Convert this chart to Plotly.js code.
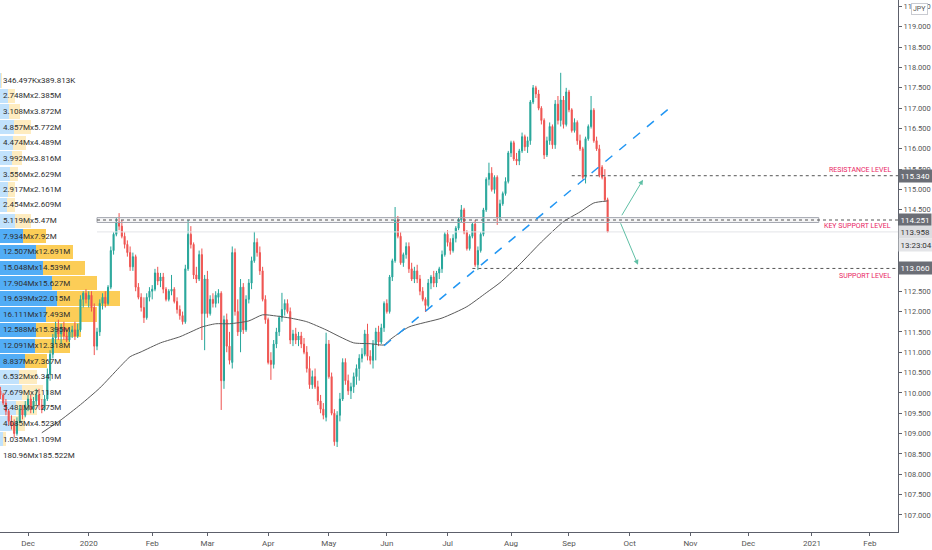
<!DOCTYPE html>
<html><head><meta charset="utf-8">
<script src="https://cdn.plot.ly/plotly-3.0.1.min.js"></script>
<style>html,body{margin:0;padding:0;background:#fff}</style>
</head><body><div id="chart" style="width:932px;height:550px"></div>
<script>
// ---- daily OHLC (bar 0 = 2019-11-18, weekdays only) ----
const firstDay = '2019-11-18';
const open = [110.05,109.95,109.75,109.55,109.3,109.25,109.0,109.3,109.6,109.45,
109.7,109.85,109.6,109.8,109.95,109.7,109.6,109.85,110.45,110.95,
111.35,111.6,111.45,111.6,111.4,111.3,111.5,111.55,111.4,111.55,
112.3,112.45,112.3,112.4,112.1,111.15,111.5,112.2,112.35,112.2,
112.6,113.5,113.9,114.2,114.1,113.85,113.65,113.45,113.1,113.35,
112.6,112.35,112.1,111.85,112.35,112.5,112.55,112.95,112.75,112.85,
112.55,112.3,112.5,112.55,112.25,112.05,111.9,111.75,113.05,113.9,
113.65,112.9,112.8,113.4,111.95,112.8,111.95,112.3,112.2,112.35,
112.45,110.3,111.8,111.15,110.75,113.45,112.0,111.5,112.6,111.55,
112.3,112.7,113.25,113.7,113.45,113.0,112.3,111.8,110.8,110.7,
111.2,111.5,111.85,112.05,112.2,112.0,111.3,111.45,111.3,111.4,
111.2,111.0,110.6,110.2,110.4,110.15,109.8,109.6,109.4,111.2,
110.4,109.5,108.8,109.45,109.85,110.75,110.3,110.05,110.15,110.4,
110.6,110.85,110.95,111.45,110.9,110.8,111.2,111.5,111.25,111.6,
112.2,112.0,112.85,113.25,114.25,113.85,113.2,113.4,113.6,113.05,
112.8,113.0,112.8,112.5,112.3,112.15,112.7,112.85,112.7,112.95,
113.05,113.4,113.9,113.7,113.5,113.8,114.05,114.25,114.5,113.95,
113.55,113.85,114.15,113.15,113.5,113.9,114.5,115.25,115.4,115.0,
115.3,114.3,114.65,114.9,115.2,115.9,116.15,115.75,115.7,115.95,
116.3,116.05,116.2,117.15,117.5,117.35,117.0,116.7,115.85,116.2,
116.55,116.1,117.1,116.7,117.2,116.6,117.4,116.96,116.45,116.65,
116.2,116.0,115.3,116.25,116.55,116.95,116.2,116.0,115.55,115.3,
114.75];
const high = [110.15,110.0,109.85,109.6,109.45,109.35,109.4,109.7,109.7,109.8,
109.95,109.95,109.9,110.1,110.1,109.85,109.95,110.6,111.05,111.45,
111.75,111.8,111.7,111.75,111.6,111.6,111.65,111.75,111.7,112.4,
112.5,112.55,112.5,112.5,112.2,111.6,112.3,112.45,112.5,112.65,
113.6,113.95,114.3,114.42,114.25,113.95,113.75,113.6,113.45,113.4,
112.7,112.45,112.35,112.45,112.6,112.65,113.05,113.1,112.95,112.95,
112.6,112.55,112.9,112.6,112.35,112.15,112.0,113.15,114.25,114.1,
113.7,113.1,113.5,113.55,112.9,113.0,112.4,112.45,112.5,112.55,
112.5,111.9,111.95,111.5,113.6,113.55,112.3,112.8,112.7,112.4,
112.8,113.35,113.96,113.8,113.6,113.1,112.4,111.85,111.0,111.3,
111.6,111.9,112.46,112.3,112.3,112.1,111.55,111.6,111.5,111.5,
111.35,111.15,110.9,110.55,110.6,110.3,109.95,109.75,111.48,111.3,
110.5,109.6,109.55,110.0,110.85,110.85,110.45,110.25,110.5,110.7,
110.95,111.1,111.55,111.7,111.05,111.3,111.6,111.65,111.7,112.25,
112.3,112.9,113.3,114.57,114.35,113.95,113.45,113.7,113.7,113.2,
113.1,113.15,112.9,112.6,112.35,112.8,112.9,113.0,113.0,113.1,
113.5,113.95,114.0,113.8,113.9,114.1,114.3,114.62,114.55,114.0,
113.9,114.2,114.25,113.6,113.95,114.55,115.3,115.66,115.55,115.35,
115.35,114.75,114.95,115.3,115.95,116.2,116.2,115.9,116.0,116.4,
116.35,116.3,117.2,117.57,117.55,117.45,117.05,116.75,116.3,116.65,
116.6,117.2,117.3,117.87,117.3,117.5,117.45,117.0,116.75,116.7,
116.35,116.05,116.3,116.6,117.3,117.0,116.3,116.1,115.6,115.5,
114.8];
const low = [109.85,109.7,109.45,109.2,109.1,108.9,108.95,109.25,109.35,109.4,
109.55,109.5,109.5,109.7,109.6,109.5,109.55,109.8,110.3,110.85,
111.2,111.3,111.2,111.3,111.25,111.25,111.35,111.3,111.35,111.5,
112.1,112.2,112.1,112.0,110.93,111.05,111.4,112.05,112.1,112.15,
112.55,113.4,113.85,114.0,113.8,113.55,113.35,113.0,113.0,112.5,
112.3,112.0,111.72,111.8,112.25,112.3,112.5,112.65,112.6,112.45,
112.25,112.25,112.4,112.2,111.95,111.8,111.68,111.7,113.0,113.55,
112.8,112.7,112.75,111.3,111.05,111.85,111.9,112.1,112.1,112.2,
109.58,110.1,111.0,110.7,110.6,111.9,111.4,111.0,111.45,111.5,
112.2,112.55,113.2,113.35,112.9,112.25,111.7,110.7,110.32,110.6,
111.1,111.4,111.75,111.9,111.95,111.2,111.15,111.2,111.15,111.1,
110.95,110.5,110.1,110.1,110.1,109.7,109.5,109.35,109.3,110.35,
109.45,108.7,108.67,109.3,109.8,110.2,109.95,109.85,110.0,110.2,
110.3,110.75,110.9,110.8,110.7,110.6,110.8,111.15,111.2,111.5,
111.95,111.95,112.75,113.2,113.8,113.15,113.1,113.3,112.95,112.75,
112.7,112.7,112.4,112.25,111.99,112.1,112.55,112.6,112.6,112.8,
112.95,113.35,113.6,113.4,113.45,113.7,114.0,114.2,113.9,113.5,
113.5,113.8,113.1,113.02,113.45,113.85,114.45,115.1,114.95,114.9,
114.13,114.25,114.6,114.85,115.15,115.8,115.7,115.6,115.6,115.9,
115.95,115.9,116.1,117.1,117.25,116.95,116.6,115.75,115.8,116.1,
116.0,116.0,116.6,116.55,116.5,116.55,116.9,116.4,116.4,116.1,
115.95,115.25,115.15,116.2,116.5,116.15,115.95,115.3,115.25,114.7,
113.95];
const close = [109.95,109.75,109.55,109.3,109.2,109.0,109.3,109.6,109.45,109.7,
109.85,109.6,109.8,109.95,109.7,109.6,109.85,110.45,110.95,111.35,
111.6,111.45,111.6,111.4,111.3,111.5,111.55,111.4,111.55,112.3,
112.45,112.3,112.4,112.1,111.15,111.5,112.2,112.35,112.2,112.6,
113.5,113.9,114.2,114.1,113.85,113.65,113.45,113.1,113.35,112.6,
112.35,112.1,111.85,112.35,112.5,112.55,112.95,112.75,112.85,112.55,
112.3,112.5,112.55,112.25,112.05,111.9,111.75,113.05,113.9,113.65,
112.9,112.8,113.4,111.95,112.8,111.95,112.3,112.2,112.4,112.45,
110.3,111.8,111.15,110.8,113.45,112.0,111.5,112.6,111.55,112.3,
112.7,113.25,113.7,113.45,113.0,112.3,111.8,110.75,110.7,111.2,
111.5,111.85,112.05,112.2,112.0,111.3,111.45,111.3,111.4,111.2,
111.0,110.6,110.2,110.4,110.15,109.8,109.6,109.45,111.2,110.4,
109.5,108.8,109.45,109.85,110.75,110.3,110.05,110.15,110.4,110.6,
110.85,110.95,111.45,110.9,110.8,111.2,111.5,111.25,111.6,112.2,
112.0,112.85,113.25,114.25,113.85,113.2,113.4,113.6,113.05,112.8,
113.0,112.8,112.5,112.3,112.15,112.7,112.85,112.7,112.95,113.05,
113.4,113.9,113.7,113.5,113.8,114.05,114.25,114.5,113.95,113.55,
113.85,114.15,113.15,113.5,113.9,114.5,115.25,115.4,115.0,115.3,
114.3,114.65,114.9,115.2,115.9,116.15,115.75,115.7,115.95,116.3,
116.05,116.2,117.15,117.5,117.35,117.0,116.7,115.85,116.2,116.55,
116.1,117.1,116.7,117.2,116.6,117.4,116.96,116.45,116.65,116.2,
116.0,115.3,116.25,116.55,116.95,116.2,116.0,115.35,115.3,114.75,
113.958];

// ---- moving average (read at sample bars) ----
const maIdx = [15,22,29,36,43,47,51,58,65,69,73,78,83,90,95,100,105,111,118,123,128,134,139,141,148,160,169,176,181,188,196,204,210,215,220];
const maVal = [109.02,109.34,109.71,110.12,110.62,110.89,111.01,111.23,111.38,111.50,111.62,111.70,111.70,111.77,111.92,111.89,111.84,111.75,111.55,111.38,111.23,111.21,111.18,111.30,111.62,111.84,112.12,112.46,112.71,113.15,113.71,114.21,114.45,114.67,114.72];

// ---- volume profile (bottom to top) ----
const vpPrice = [108.86,109.25,109.63,110.01,110.40,110.78,111.16,111.55,111.93,112.32,112.70,113.08,113.47,113.85,114.23,114.62,115.00,115.38,115.77,116.15,116.53,116.92,117.30,117.68];
const vpUp = [1.035,4.085,5.481,7.679,6.532,8.837,12.091,12.588,16.111,19.639,17.904,15.048,12.507,7.934,5.119,2.454,2.917,3.556,3.992,4.474,4.857,3.108,2.748,0.346497];
const vpDown = [1.109,4.523,7.275,7.118,6.341,7.367,12.318,15.395,17.493,22.015,15.627,14.539,12.691,7.92,5.47,2.609,2.161,2.629,3.816,4.489,5.772,3.872,2.385,0.389813];
const vpTotalText = '180.96Mx185.522M';
const vaFirst = 5, vaLast = 13;

// ---- axis ticks ----
const tickDates = ['2019-12-02','2020-01-01','2020-02-03','2020-03-02','2020-04-01','2020-05-01','2020-06-01','2020-07-01','2020-08-03','2020-09-01','2020-10-01','2020-11-02','2020-12-01','2021-01-01','2021-02-01'];
const tickText = ['Dec','2020','Feb','Mar','Apr','May','Jun','Jul','Aug','Sep','Oct','Nov','Dec','2021','Feb'];
// price ticks (those hidden behind the price labels in the picture are left out)
const priceTicks = [107,107.5,108,108.5,109,109.5,110,110.5,111,111.5,112,112.5,114.5,115,115.5,116,116.5,117,117.5,118,118.5,119,119.5];

// ---- levels ----
const resistance = 115.340, keySupport = 114.251, support = 113.060, lastPrice = 113.958;
const keyBand = [114.19, 114.31];
const timerText = '13:23:04';

function weekdays(start, n){
  const out=[]; const d=new Date(start+'T00:00:00Z');
  while(out.length<n){const w=d.getUTCDay(); if(w!==0&&w!==6) out.push(d.toISOString().slice(0,10)); d.setUTCDate(d.getUTCDate()+1);}
  return out;
}
const dates = weekdays(firstDay, open.length);
const fmtV = v => v < 1 ? String(+(v*1000).toFixed(3))+'K' : String(+v.toFixed(3))+'M';

const upCol = vpUp.map((v,i)=> (i>=vaFirst&&i<=vaLast)?'rgba(33,150,243,0.78)':'rgba(33,150,243,0.28)');
const dnCol = vpDown.map((v,i)=> (i>=vaFirst&&i<=vaLast)?'rgba(251,192,45,0.8)':'rgba(251,192,45,0.3)');

const X0 = '2019-11-15 20:30', X1 = '2021-02-15 04:48';

const traces = [
  {type:'bar', orientation:'h', x:vpUp, y:vpPrice, xaxis:'x', yaxis:'y', width:0.35, marker:{color:upCol, line:{width:0}}, hoverinfo:'skip'},
  {type:'bar', orientation:'h', x:vpDown, y:vpPrice, xaxis:'x', yaxis:'y', width:0.35, marker:{color:dnCol, line:{width:0}}, hoverinfo:'skip'},
  {type:'candlestick', x:dates, open:open, high:high, low:low, close:close, xaxis:'x2', yaxis:'y',
   increasing:{line:{color:'#26a69a', width:1}, fillcolor:'#26a69a'},
   decreasing:{line:{color:'#ef5350', width:1}, fillcolor:'#ef5350'},
   whiskerwidth:0, hoverinfo:'skip'},
  {type:'scatter', mode:'lines', x:maIdx.map(i=>dates[i]), y:maVal, xaxis:'x2', yaxis:'y',
   line:{color:'#5a5a5a', width:1, shape:'spline', smoothing:0.6}, hoverinfo:'skip'}
];

const annotations = [];
vpPrice.forEach((p,i)=>{
  annotations.push({xref:'x', yref:'y', x:0.5, y:p, xanchor:'left', yanchor:'middle', showarrow:false,
    text: fmtV(vpUp[i])+'x'+fmtV(vpDown[i]), font:{family:'Roboto', size:8, color:'#2e2e2e'}});
});
annotations.push({xref:'x', yref:'y', x:0.5, y:108.46, xanchor:'left', yanchor:'middle', showarrow:false,
  text: vpTotalText, font:{family:'Roboto', size:8, color:'#2e2e2e'}});

const lvlFont = {family:'Roboto', size:7, color:'#e91e63'};
annotations.push({xref:'paper', yref:'y', x:0.9944, y:115.48, xanchor:'right', yanchor:'middle', showarrow:false, text:'RESISTANCE LEVEL', font:lvlFont});
annotations.push({xref:'paper', yref:'y', x:0.9944, y:114.11, xanchor:'right', yanchor:'middle', showarrow:false, text:'KEY SUPPORT LEVEL', font:lvlFont});
annotations.push({xref:'paper', yref:'y', x:0.9944, y:112.88, xanchor:'right', yanchor:'middle', showarrow:false, text:'SUPPORT LEVEL', font:lvlFont});

function priceBox(y, text, bg, fg){
  annotations.push({xref:'paper', yref:'y', x:1, y:y, xanchor:'left', yanchor:'middle', showarrow:false,
    text:text, bgcolor:bg, borderpad:1.5, font:{family:'Roboto', size:8, color:fg}});
}
priceBox(resistance, resistance.toFixed(3), '#6b6e76', '#ffffff');
priceBox(keySupport, keySupport.toFixed(3), '#6b6e76', '#ffffff');
priceBox(lastPrice, lastPrice.toFixed(3), '#dcdde0', '#333333');
priceBox(113.64, timerText, '#e4e5e8', '#333333');
priceBox(support, support.toFixed(3), '#6b6e76', '#ffffff');

annotations.push({xref:'paper', yref:'paper', x:1, y:1, xanchor:'left', yanchor:'top', xshift:13, yshift:-3, showarrow:false,
  text:'JPY', bgcolor:'#ffffff', bordercolor:'#c9cbd1', borderwidth:1, borderpad:1, font:{family:'Roboto', size:7, color:'#555'}});

// arrows
annotations.push({xref:'x2', yref:'y', x:'2020-10-07 19:00', y:115.24, ax:-22, ay:37, showarrow:true, arrowhead:2, arrowsize:1, arrowwidth:1, arrowcolor:'#5fbfa5', text:''});
annotations.push({xref:'x2', yref:'y', x:'2020-10-06 00:00', y:113.15, ax:-18, ay:-43, showarrow:true, arrowhead:2, arrowsize:1, arrowwidth:1, arrowcolor:'#5fbfa5', text:''});

const shapes = [
  {type:'rect', xref:'x2', yref:'y', x0:'2020-01-06', x1:'2021-01-05 12:00', y0:keyBand[0], y1:keyBand[1], fillcolor:'rgba(180,182,190,0.12)', line:{color:'#a3a6af', width:1}},
  {type:'line', xref:'x2', yref:'y', x0:'2020-01-06', x1:X1, y0:lastPrice, y1:lastPrice, line:{color:'#e3e4e8', width:1}},
  {type:'line', xref:'x2', yref:'y', x0:'2020-01-06', x1:X1, y0:keySupport, y1:keySupport, line:{color:'#555', width:1, dash:'dot'}},
  {type:'line', xref:'x2', yref:'y', x0:'2020-09-02', x1:X1, y0:resistance, y1:resistance, line:{color:'#555', width:1, dash:'dot'}},
  {type:'line', xref:'x2', yref:'y', x0:'2020-07-14', x1:X1, y0:support, y1:support, line:{color:'#555', width:1, dash:'dot'}},
  {type:'line', xref:'x2', yref:'y', x0:'2020-05-29', x1:'2020-10-21 14:00', y0:111.16, y1:117.01, line:{color:'#2196f3', width:1.5, dash:'dash'}}
];

const layout = {
  width:932, height:550, margin:{l:0, r:34, t:0, b:18},
  paper_bgcolor:'#ffffff', plot_bgcolor:'#ffffff', showlegend:false,
  barmode:'stack', boxgap:0.45,
  xaxis:{range:[0, 311.8], visible:false, fixedrange:true},
  xaxis2:{overlaying:'x', anchor:'y', side:'bottom', type:'date', range:[X0, X1],
    rangebreaks:[{bounds:['sat','mon']}], rangeslider:{visible:false},
    tickmode:'array', tickvals:tickDates, ticktext:tickText,
    showline:true, linecolor:'#5d606b', linewidth:1, ticks:'outside', ticklen:3, tickcolor:'#5d606b',
    showgrid:false, zeroline:false, tickfont:{family:'Roboto', size:8, color:'#555'}},
  yaxis:{side:'right', range:[106.58, 119.66], tickmode:'array', tickvals:priceTicks, tickformat:'.3f',
    showline:true, linecolor:'#5d606b', linewidth:1, ticks:'outside', ticklen:3, tickcolor:'#5d606b',
    showgrid:false, zeroline:false, tickfont:{family:'Roboto', size:7.5, color:'#555'}},
  shapes:shapes, annotations:annotations
};

Plotly.newPlot('chart', traces, layout, {staticPlot:true, displayModeBar:false});
</script></body></html>
